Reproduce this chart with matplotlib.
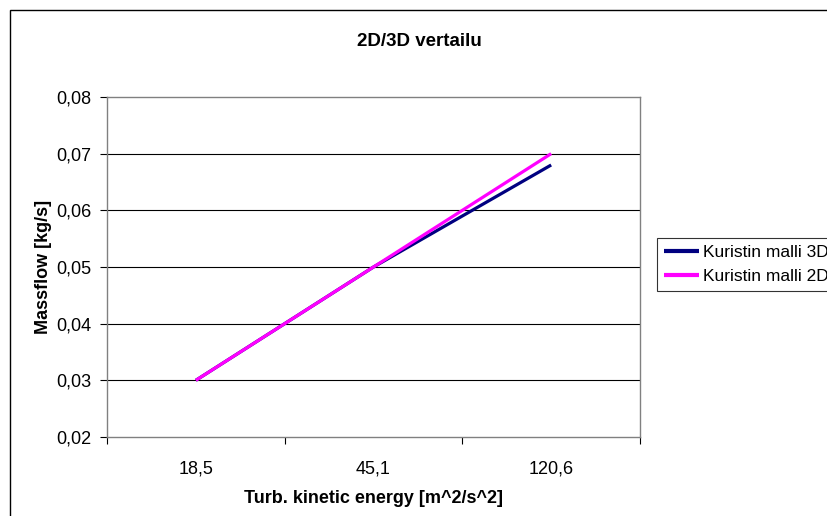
import matplotlib
matplotlib.use("Agg")
import matplotlib.pyplot as plt
from matplotlib.patches import Rectangle
from matplotlib.ticker import FixedLocator, FuncFormatter

plt.rcParams['font.family'] = ['Liberation Sans', 'DejaVu Sans']

# data
categories = ["18,5", "45,1", "120,6"]
flow_3d = [0.03, 0.05, 0.068]
flow_2d = [0.03, 0.05, 0.07]
series_names = ["Kuristin malli 3D", "Kuristin malli 2D"]

W, H = 828, 516
fig = plt.figure(figsize=(W / 100, H / 100), dpi=100)

# outer chart border (runs past the right and bottom edges)
fig.patches.append(Rectangle((10 / W, -0.1), 1.2, 1 - 10 / H + 0.1,
                             transform=fig.transFigure, fill=False,
                             edgecolor='black', linewidth=1.0))

ax = fig.add_axes([107 / W, (H - 437) / H, 533 / W, 340 / H])
x = list(range(len(categories)))
ax.plot(x, flow_3d, color='#000080', lw=2.3, label=series_names[0],
        solid_capstyle='butt')
ax.plot(x, flow_2d, color='#FF00FF', lw=2.3, label=series_names[1],
        solid_capstyle='butt')

ax.set_xlim(-0.5, len(categories) - 0.5)
ax.set_ylim(0.02, 0.08)
ax.set_yticks([0.02, 0.03, 0.04, 0.05, 0.06, 0.07, 0.08])
ax.yaxis.set_major_formatter(FuncFormatter(lambda v, p: f"{v:.2f}".replace('.', ',')))

ax.xaxis.set_major_locator(FixedLocator([-0.5, 0.5, 1.5, 2.5]))
ax.xaxis.set_minor_locator(FixedLocator(x))
ax.set_xticklabels([], minor=False)
ax.set_xticklabels(categories, minor=True)
ax.tick_params(axis='x', which='minor', length=0, pad=17, labelsize=13)
ax.tick_params(axis='x', which='major', length=5, width=0.8, direction='out')
ax.tick_params(axis='y', length=5, width=0.8, direction='out', labelsize=13, pad=6)

for y in [0.03, 0.04, 0.05, 0.06, 0.07]:
    ax.axhline(y, color='black', lw=0.8, zorder=0)
for s in ax.spines.values():
    s.set_color('#808080')
    s.set_linewidth(1.0)

ax.set_xlabel("Turb. kinetic energy [m^2/s^2]", fontsize=13, fontweight='bold', labelpad=9)
ax.set_ylabel("Massflow [kg/s]", fontsize=13, fontweight='bold', labelpad=3)
fig.text(419 / W, 1 - 42 / H, "2D/3D vertailu", ha='center', va='center',
         fontsize=13.5, fontweight='bold')

leg = fig.legend(loc='upper left', bbox_to_anchor=(657 / W, 1 - 238 / H),
                 fontsize=12.5, frameon=True, fancybox=False, borderaxespad=0,
                 handlelength=2.0, handletextpad=0.25, borderpad=0.4,
                 labelspacing=0.5)
leg.get_frame().set_edgecolor('black')
leg.get_frame().set_linewidth(0.8)
for line in leg.get_lines():
    line.set_linewidth(3.0)

fig.savefig("out.png", dpi=100)
